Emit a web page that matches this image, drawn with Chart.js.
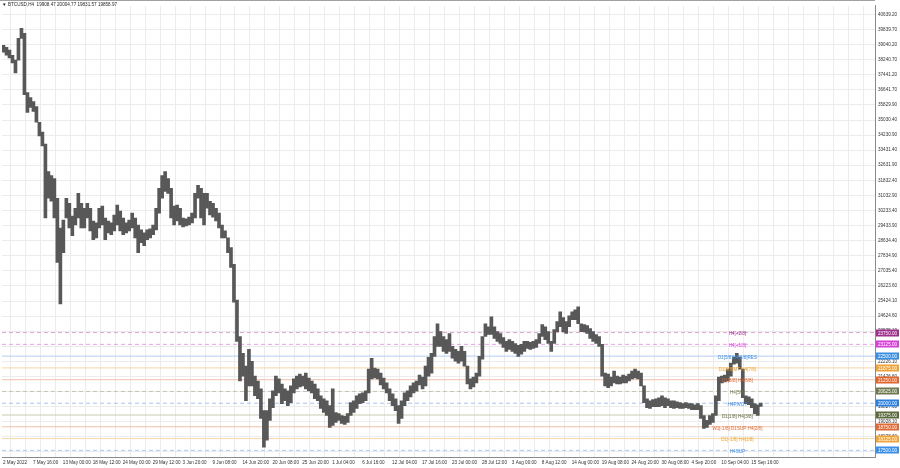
<!DOCTYPE html>
<html><head><meta charset="utf-8">
<script src="https://cdn.jsdelivr.net/npm/chart.js@4.4.0/dist/chart.umd.min.js"></script>
<style>html,body{margin:0;padding:0;background:#fff;overflow:hidden}#c{display:block}</style>
</head><body>
<canvas id="c" width="900" height="468"></canvas>
<script>
const symbolTitle = 'BTCUSD,H4  19908.47 20004.77 19831.57 19858.97';
const timeLabels = ['2 May 2022','7 May 16:00','13 May 00:00','18 May 12:00','24 May 00:00','29 May 12:00','3 Jun 20:00','9 Jun 08:00','14 Jun 20:00','20 Jun 08:00','25 Jun 20:00','1 Jul 04:00','6 Jul 16:00','12 Jul 04:00','17 Jul 16:00','23 Jul 00:00','28 Jul 12:00','3 Aug 00:00','8 Aug 12:00','14 Aug 00:00','19 Aug 08:00','24 Aug 20:00','30 Aug 08:00','4 Sep 20:00','10 Sep 04:00','15 Sep 16:00'];
const priceTicks = [40639.20,39839.70,39040.20,38240.70,37441.20,36641.70,35829.90,35030.40,34230.90,33431.40,32631.90,31832.40,31032.90,30233.40,29433.90,28634.40,27834.90,27035.40,26223.60,25424.10,24624.60,23825.10,23025.60,22226.10,21426.60,20627.10,19827.60,19028.10,18228.60,17429.10];
const highs = [39000,38890,38740,38470,38210,39360,39890,39630,36480,36220,36010,35750,34910,34390,33760,32290,32080,31920,30880,29300,
29720,30880,30610,29930,30350,31140,30610,30350,30610,30350,29670,29570,30350,30460,29830,29670,29570,29990,30510,30200,
29830,29570,29720,30090,29830,29460,29200,29040,29200,29250,29460,30350,31400,32080,32290,31920,31400,30460,30510,30350,
29830,29780,29880,30090,31140,31560,31400,31140,31140,30720,30610,30350,30090,29460,29150,28780,28260,27370,25480,23540,
22650,21970,22860,22230,21440,21180,20760,19610,19610,20240,20660,21440,21290,21020,20760,20660,20920,21290,21440,21550,
21440,21600,21340,21180,21020,20760,20400,20240,20130,19870,20760,19510,19450,19350,19300,19450,20030,20130,20400,20500,
20550,20660,21810,22390,21860,21810,21600,21340,21080,20760,20500,20240,19870,20130,20550,20660,20920,21080,21180,21500,
21390,21970,22440,22650,23540,24220,23800,23540,23380,23700,23020,22860,22750,23020,22750,21970,21290,21390,21600,22490,
23540,24220,24060,24590,24060,23800,23700,23490,23280,23380,23280,23170,23070,23120,23280,23280,23230,23280,23380,23700,
24170,24060,23800,23280,23910,24330,24850,24540,24330,24640,24850,24960,25110,24220,24170,24120,23960,23800,23650,23540,
23120,21600,21550,21390,21710,21440,21390,21500,21440,21550,21710,21810,21710,21600,20920,20240,20130,20190,20240,20290,
20400,20290,20240,20130,20130,20080,20030,19980,20030,19980,19980,19920,19980,19870,19350,19090,19350,19450,20400,21390,
21440,21500,21810,22130,22440,22650,22440,21810,20400,20340,20240,19980,19920,20010];
const lows = [38630,38470,38320,38060,37530,38210,39360,36380,35440,35700,35490,34910,34180,33650,29830,30880,30720,29830,27470,25270,
27990,29830,29300,28890,29460,29830,29300,29300,29830,29150,28680,28780,29300,29460,28680,29040,28940,29150,29460,29150,
28940,29040,29150,29300,28780,27990,28520,28360,28680,28780,28940,29200,30090,30880,31240,31140,29830,29460,29670,29460,
29360,29410,29460,29570,29830,30880,29830,29460,30350,29990,29880,29670,29300,28780,28780,27990,27210,25370,23280,21180,
21440,20130,20920,20920,20400,20240,19190,17670,18040,19090,19770,20400,20550,19980,20130,19870,20030,20550,20760,20870,
20920,20760,20660,20550,20240,20130,19720,19510,19350,18720,18820,18980,19090,18930,18880,18980,19350,19510,19720,19980,
20030,20130,20550,21290,21340,21290,20970,20760,20550,20130,19870,19610,18930,19190,19870,20130,20340,20550,20660,20970,
20760,20920,21440,21600,22490,23020,23020,22750,22650,22750,22390,22230,22130,22230,21970,21020,20760,20870,21080,21440,
22340,23540,23650,23650,23440,23280,23170,22960,22750,22860,22750,22650,22490,22600,22750,22910,22860,22910,22960,23170,
23540,23380,23170,22750,23170,23800,24060,23800,23700,24060,24430,24430,24220,23800,23800,23700,23440,23280,23170,23020,
21440,20920,20820,20920,21080,21020,21020,21080,21080,21180,21290,21340,21290,20920,20030,19770,19720,19820,19820,19820,
19870,19770,19870,19770,19720,19770,19720,19720,19770,19720,19660,19660,19660,19190,18670,18720,18880,18980,19350,20130,
21080,21130,21180,21440,22070,22130,21810,20290,19980,19920,19770,19450,19350,19830];
const levelValues = [23750,23125,22500,21875,21250,20625,20000,19375,18750,18125,17500];
const levelNames = ['H4[+2/8]','H4[+1/8]','D1[5/8]H4[8/8]RES','D1[4/8]MT H4[7/8]','D1[3/8] H4[6/8]','H4[5/8]','H4PIVOT','D1[1/8] H4[3/8]','W1[-1/8] D1SUP H4[2/8]','D1[-1/8] H4[1/8]','H4SUP'];

// styles
const boxColors  = ['#9e2f8b','#d640d6','#3a8ee2','#f0a238','#e0642c','#6e7a50','#2a7fe0','#5c6b3c','#e06a35','#f0a53a','#3a90e8'];
const lineColors = ['#d9a6cc','#e9a0e9','#b5cdf0','#f6d5a8','#f0c0a8','#c4c4b4','#a8c4ec','#c8ccb4','#f0c0a8','#f6d8aa','#a8c8f0'];
const lineDashed = [true,true,false,false,false,true,true,false,false,false,true];
const FONT = '"Liberation Sans", Arial, sans-serif';
const PLOT_W = 875, PLOT_H = 457, BAR_PX = 3;
const xMin = -0.5, xMax = PLOT_W / BAR_PX - 0.5;

const candleData = highs.map((h, i) => ({x: i, y: [lows[i], h]}));
const levelSets = levelValues.map((v, i) => ({
  type: 'line',
  data: [{x: xMin, y: v}, {x: xMax, y: v}],
  borderColor: lineColors[i],
  borderWidth: 1,
  borderDash: lineDashed[i] ? [4, 3] : [],
  pointRadius: 0,
  order: 2
}));

const overlay = {
  id: 'overlay',
  afterDatasetsDraw(chart) {
    const {ctx, scales: {x, y}} = chart;
    ctx.save();
    ctx.font = '4.6px ' + FONT;
    ctx.textAlign = 'center';
    ctx.textBaseline = 'middle';
    const cx = x.getPixelForValue(245.2);
    levelValues.forEach((v, i) => {
      ctx.fillStyle = boxColors[i];
      ctx.fillText(levelNames[i], cx, y.getPixelForValue(v) + 1.5);
    });
    ctx.restore();
  },
  afterDraw(chart) {
    const {ctx, scales: {y}, chartArea} = chart;
    ctx.save();
    ctx.font = '4.6px ' + FONT;
    ctx.textBaseline = 'middle';
    levelValues.forEach((v, i) => {
      const py = Math.round(y.getPixelForValue(v));
      ctx.fillStyle = boxColors[i];
      ctx.fillRect(chartArea.right + 1, py - 3.5, 23, 7);
      ctx.fillStyle = '#ffffff';
      ctx.textAlign = 'center';
      ctx.fillText(v.toFixed(2), chartArea.right + 12.5, py + 0.3);
    });
    ctx.fillStyle = '#222';
    ctx.textAlign = 'left';
    ctx.font = '4.6px ' + FONT;
    ctx.fillText('\u25BC', 2, 5);
    ctx.fillText(symbolTitle, 8, 5);
    ctx.fillStyle = '#a0a0a0';
    ctx.fillRect(0, 0, chartArea.right, 1);
    ctx.restore();
  }
};

new Chart(document.getElementById('c'), {
  type: 'bar',
  data: {
    datasets: [{
      type: 'bar',
      data: candleData,
      backgroundColor: '#585858',
      borderWidth: 0,
      barThickness: BAR_PX,
      grouped: false,
      order: 0
    }, ...levelSets]
  },
  options: {
    responsive: false,
    animation: false,
    devicePixelRatio: 1,
    layout: {padding: 0},
    plugins: {legend: {display: false}, tooltip: {enabled: false}, title: {display: false}},
    scales: {
      x: {
        type: 'linear',
        min: xMin, max: xMax,
        offset: false,
        afterBuildTicks(scale) {
          const t = [];
          for (let k = 0; 5 * k - 1 / 6 < xMax; k++) t.push({value: 5 * k - 1 / 6});
          scale.ticks = t;
        },
        afterFit(scale) { scale.height = 468 - PLOT_H; },
        grid: {color: '#ececec', drawTicks: false, lineWidth: 1},
        border: {display: true, color: '#8a8a8a'},
        ticks: {
          autoSkip: false, maxRotation: 0, minRotation: 0, align: 'start', padding: 3,
          color: '#333', font: {family: FONT, size: 4.6},
          callback: (v, i) => (i % 2 === 0 && timeLabels[i / 2]) ? timeLabels[i / 2] : ''
        }
      },
      y: {
        type: 'linear',
        position: 'right',
        min: 41094 - 52.4 * PLOT_H,
        max: 41094,
        afterBuildTicks(scale) { scale.ticks = priceTicks.map(v => ({value: v})); },
        afterFit(scale) { scale.width = 900 - PLOT_W; },
        grid: {color: '#ececec', drawTicks: false, lineWidth: 1},
        border: {display: true, color: '#8a8a8a'},
        ticks: {
          padding: 3, color: '#333', font: {family: FONT, size: 4.6},
          callback: v => Number(v).toFixed(2)
        }
      }
    }
  },
  plugins: [overlay]
});
</script>
</body></html>
